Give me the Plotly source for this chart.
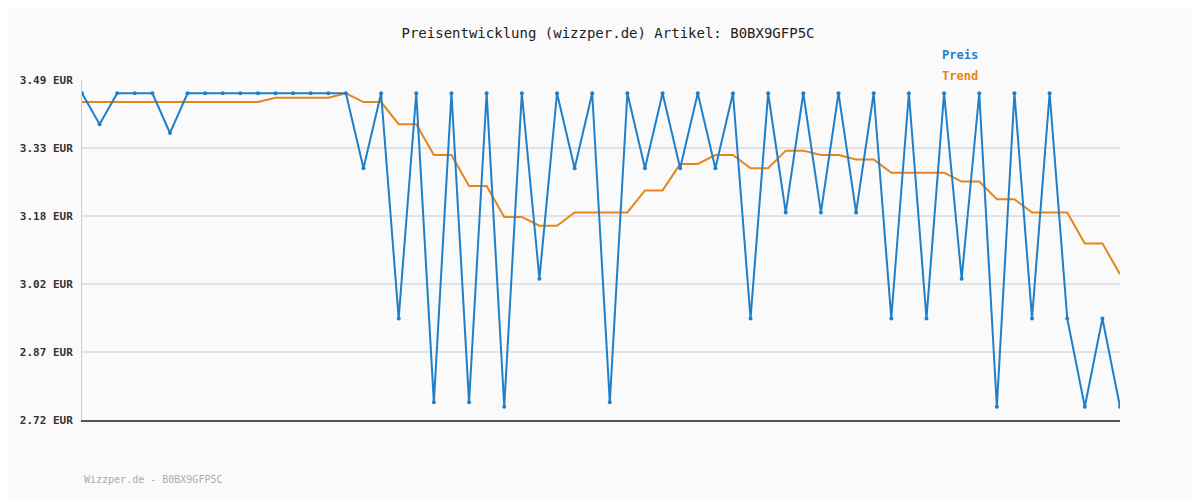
import plotly.graph_objects as go

preis = [3.46,3.39,3.46,3.46,3.46,3.37,3.46,3.46,3.46,3.46,3.46,3.46,3.46,3.46,3.46,3.46,
         3.29,3.46,2.95,3.46,2.76,3.46,2.76,3.46,2.75,3.46,3.04,3.46,3.29,3.46,2.76,3.46,
         3.29,3.46,3.29,3.46,3.29,3.46,2.95,3.46,3.19,3.46,3.19,3.46,3.19,3.46,2.95,3.46,
         2.95,3.46,3.04,3.46,2.75,3.46,2.95,3.46,2.95,2.75,2.95,2.75]
trend = [3.44]*11 + [3.45]*4 + [3.46] + [3.44,3.44,3.39,3.39,3.32,3.32,3.25,3.25,3.18,3.18,
         3.16,3.16,3.19,3.19,3.19,3.19,3.24,3.24,3.30,3.30,3.32,3.32,3.29,3.29,3.33,3.33,
         3.32,3.32,3.31,3.31,3.28,3.28,3.28,3.28,3.26,3.26,3.22,3.22,3.19,3.19,3.19,3.12,3.12,3.05]
x = list(range(len(preis)))
tick_vals = [2.72, 2.874, 3.028, 3.182, 3.336, 3.49]
tick_text = ["<b>2.72 EUR</b>", "<b>2.87 EUR</b>", "<b>3.02 EUR</b>", "<b>3.18 EUR</b>", "<b>3.33 EUR</b>", "<b>3.49 EUR</b>"]

blue = "#1f7fc8"
orange = "#e5851c"
fig = go.Figure()
fig.add_trace(go.Scatter(x=x, y=trend, mode="lines", line=dict(color=orange, width=2), name="Trend"))
fig.add_trace(go.Scatter(x=x, y=preis, mode="lines+markers", line=dict(color=blue, width=2),
                         marker=dict(size=4, color=blue), name="Preis"))
font = "DejaVu Sans Mono"
fig.update_layout(
    width=1200, height=500, showlegend=False,
    paper_bgcolor="#fafafa", plot_bgcolor="#fafafa",
    margin=dict(l=72, r=88, t=72, b=88),
    font=dict(family=font, size=11, color="#333"),
    title=dict(text="Preisentwicklung (wizzper.de) Artikel: B0BX9GFP5C", x=0.5, y=0.96,
               xanchor="center", font=dict(family=font, size=14, color="#222")),
    xaxis=dict(range=[0, len(preis)-1], showticklabels=False, showgrid=False, zeroline=False,
               showline=True, linecolor="#555", linewidth=2),
    yaxis=dict(range=[2.72, 3.49], tickvals=tick_vals, ticktext=tick_text, showgrid=True,
               gridcolor="#e2e2e2", gridwidth=2, zeroline=False, showline=True,
               linecolor="#ccc", ticks="", ticklabelstandoff=6,
               tickfont=dict(family=font, size=11, color="#333")),
)
fig.add_annotation(text="<b>Preis</b>", x=(940-80)/1040, y=(420-46)/340, xref="paper", yref="paper",
                   xanchor="left", showarrow=False, font=dict(family=font, size=12, color=blue))
fig.add_annotation(text="<b>Trend</b>", x=(940-80)/1040, y=(420-67)/340, xref="paper", yref="paper",
                   xanchor="left", showarrow=False, font=dict(family=font, size=12, color=orange))
fig.add_annotation(text="Wizzper.de - B0BX9GFP5C", x=0, y=(420-487)/340, xref="paper", yref="paper",
                   xanchor="left", showarrow=False, font=dict(family=font, size=10, color="#aaa"))
fig.write_html("out.html")
